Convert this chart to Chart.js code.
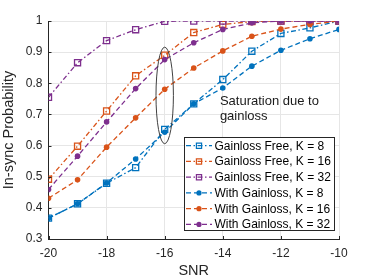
<!DOCTYPE html>
<html><head><meta charset="utf-8">
<script src="https://cdn.jsdelivr.net/npm/chart.js@4"></script>
<style>html,body{margin:0;padding:0;background:#fff;}#wrap{width:374px;height:280px;position:relative;}</style>
</head><body><div id="wrap"><canvas id="c"></canvas></div>
<script>
const snr = [-20,-19,-18,-17,-16,-15,-14,-13,-12,-11,-10];
const gfK8  = [0.367,0.413,0.479,0.529,0.652,0.734,0.812,0.903,0.960,0.978,1.0];
const gfK16 = [0.492,0.598,0.711,0.824,0.890,0.963,0.989,0.998,1,1,1];
const gfK32 = [0.755,0.866,0.937,0.972,0.999,1,1,1,1,1,1];
const wgK8  = [0.367,0.413,0.480,0.557,0.643,0.734,0.785,0.855,0.906,0.943,0.973];
const wgK16 = [0.431,0.490,0.595,0.689,0.781,0.849,0.904,0.951,0.974,0.989,1.0];
const wgK32 = [0.459,0.566,0.676,0.783,0.876,0.930,0.973,0.994,1,1,1];
const seriesNames = ['Gainloss Free, K = 8','Gainloss Free, K = 16','Gainloss Free, K = 32',
                     'With Gainloss, K = 8','With Gainloss, K = 16','With Gainloss, K = 32'];
const xTicks = [-20,-18,-16,-14,-12,-10];
const yTicks = [0.3,0.4,0.5,0.6,0.7,0.8,0.9,1];
const noteLines = ['Saturation due to','gainloss'];
const noteAt = [-14.1, 0.743];
const ellipseCenter = [-16, 0.761];
const ellipseRadii = [0.30, 0.155];

const FONT = "'Liberation Sans', Arial, Helvetica, sans-serif";
const colors = ['#0072BD','#D95319','#7E2F8E'];
const allData = [gfK8,gfK16,gfK32,wgK8,wgK16,wgK32];
const DASHDOT = [5,2.5,1.5,2.5];
const DASH = [5,3];

const datasets = allData.map((arr,i)=>{
  const c = colors[i%3];
  const gf = i<3;
  return {
    label: seriesNames[i],
    data: arr.map((v,j)=>({x:snr[j], y:v})),
    borderColor: c,
    backgroundColor: c,
    borderWidth: 1.3,
    borderDash: gf ? DASHDOT : DASH,
    pointStyle: gf ? 'rect' : 'circle',
    pointRadius: gf ? 4.3 : 2.8,
    pointBorderWidth: gf ? 1.3 : 0,
    pointBackgroundColor: gf ? 'rgba(0,0,0,0)' : c,
    pointBorderColor: c,
    tension: 0,
    fill: false,
    order: 6-i
  };
});

const extras = {
  id: 'extras',
  afterDraw(chart){
    const ctx = chart.ctx, xs = chart.scales.x, ys = chart.scales.y, ca = chart.chartArea;
    ctx.save();
    // inward ticks
    ctx.strokeStyle = '#262626'; ctx.lineWidth = 1; ctx.setLineDash([]);
    xTicks.forEach(t=>{const px=Math.round(xs.getPixelForValue(t))+0.5; ctx.beginPath(); ctx.moveTo(px,ca.bottom); ctx.lineTo(px,ca.bottom-3); ctx.stroke();});
    yTicks.forEach(t=>{const py=Math.round(ys.getPixelForValue(t))+0.5; ctx.beginPath(); ctx.moveTo(ca.left,py); ctx.lineTo(ca.left+3,py); ctx.stroke();});
    // ellipse
    const cx = xs.getPixelForValue(ellipseCenter[0]), cy = ys.getPixelForValue(ellipseCenter[1]);
    const rx = Math.abs(xs.getPixelForValue(ellipseCenter[0]+ellipseRadii[0])-cx);
    const ry = Math.abs(ys.getPixelForValue(ellipseCenter[1]+ellipseRadii[1])-cy);
    ctx.strokeStyle = '#404040'; ctx.lineWidth = 1;
    ctx.beginPath(); ctx.ellipse(cx,cy,rx,ry,0,0,Math.PI*2); ctx.stroke();
    // annotation
    ctx.fillStyle = '#1a1a1a'; ctx.font = '13px '+FONT; ctx.textBaseline='middle'; ctx.textAlign='left';
    const nx = xs.getPixelForValue(noteAt[0]), ny = ys.getPixelForValue(noteAt[1]);
    noteLines.forEach((l,i)=>ctx.fillText(l, nx, ny + i*15.5));
    // legend
    const L=184, T=137, R=334, B=230;
    ctx.fillStyle='#ffffff'; ctx.fillRect(L,T,R-L,B-T);
    ctx.strokeStyle='#262626'; ctx.lineWidth=1; ctx.strokeRect(L+0.5,T+0.5,R-L,B-T);
    chart.data.datasets.forEach((d,i)=>{
      const y = T + 8.7 + i*15.75;
      ctx.strokeStyle=d.borderColor; ctx.lineWidth=d.borderWidth; ctx.setLineDash(d.borderDash);
      ctx.beginPath(); ctx.moveTo(186,y); ctx.lineTo(212,y); ctx.stroke();
      ctx.setLineDash([]);
      if(d.pointStyle==='rect'){
        ctx.beginPath(); ctx.rect(199-2.6,y-2.6,5.2,5.2);
        ctx.lineWidth=1.2; ctx.strokeStyle=d.borderColor; ctx.stroke();
      } else {
        ctx.beginPath(); ctx.arc(199,y,2.6,0,Math.PI*2);
        ctx.fillStyle=d.borderColor; ctx.fill();
      }
      ctx.fillStyle='#000000'; ctx.font='12px '+FONT; ctx.textBaseline='middle'; ctx.textAlign='left';
      ctx.fillText(d.label, 214.5, y+0.5);
    });
    ctx.restore();
  }
};

new Chart(document.getElementById('c'), {
  type: 'line',
  data: { datasets },
  options: {
    responsive: true, maintainAspectRatio: false, animation: false,
    devicePixelRatio: 1,
    layout: { padding: { left: 0, right: 35, top: 21, bottom: 0 } },
    plugins: { legend: { display: false }, tooltip: { enabled: false } },
    scales: {
      x: {
        type: 'linear', min: -20, max: -10,
        afterBuildTicks: s => { s.ticks = xTicks.map(v=>({value:v})); },
        afterFit: s => { s.height = 41; },
        grid: { color: '#e6e6e6', lineWidth: 1, drawTicks: false },
        border: { color: '#262626', width: 1 },
        ticks: { color: '#262626', font: { family: FONT, size: 12 }, padding: 7, maxRotation: 0 },
        title: { display: true, text: 'SNR', color: '#262626', font: { family: FONT, size: 14.5 }, padding: { top: 0, bottom: 0 } }
      },
      y: {
        min: 0.3, max: 1,
        afterBuildTicks: s => { s.ticks = yTicks.map(v=>({value:v})); },
        afterFit: s => { s.width = 48.5; },
        grid: { color: '#e6e6e6', lineWidth: 1, drawTicks: false },
        border: { color: '#262626', width: 1 },
        ticks: { color: '#262626', font: { family: FONT, size: 12 }, padding: 6, callback: v => (Math.round(v*10)/10).toString() },
        title: { display: true, text: 'In-sync Probability', color: '#262626', font: { family: FONT, size: 14.5 }, padding: { top: 0, bottom: 5 } }
      }
    }
  },
  plugins: [extras]
});
</script></body></html>
